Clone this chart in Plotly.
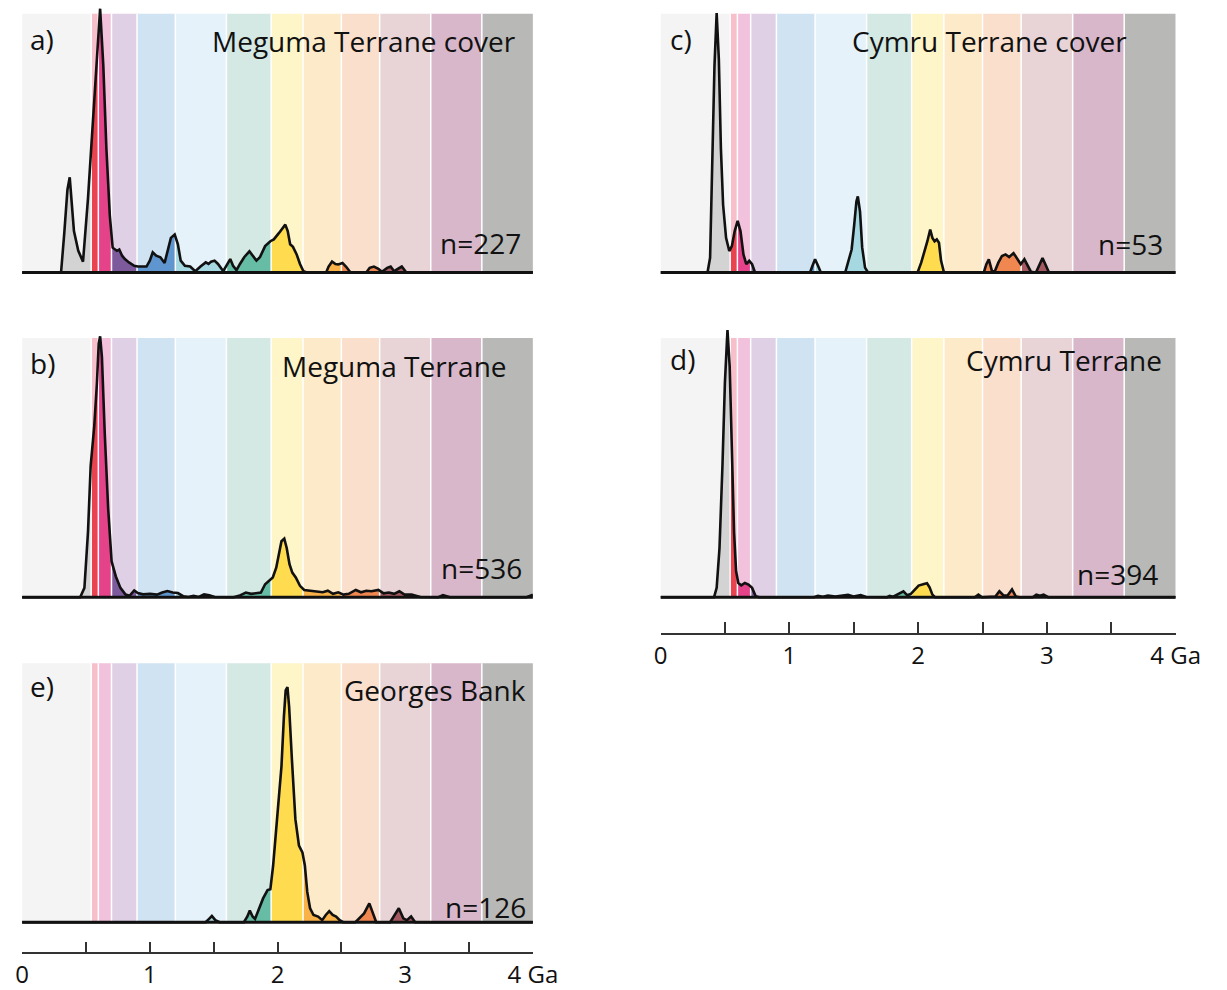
import numpy as np
import plotly.graph_objects as go

W, H = 1227, 990

# ---------------- data ----------------
BAND_EDGES = [0, 0.541, 0.597, 0.7, 0.9, 1.2, 1.6, 1.95, 2.2, 2.5, 2.8, 3.2, 3.6, 4.0]
BAND_LIGHT = ["#f4f4f4", "#f6bfca", "#f2c1dc", "#dfd0e6", "#d0e3f3", "#e5f2f9", "#d4e9e4",
              "#fef5c8", "#fdeac9", "#fadfcc", "#e8d3d6", "#d8b7cb", "#b8b8b7"]
BAND_DARK = ["#d4d3d4", "#e8434f", "#e4438a", "#7c5a9c", "#5f96cf", "#a5d8e1", "#67bca5",
             "#ffdb4f", "#f8b247", "#f08650", "#a55a62", "#a0678f", "#8a8a8a"]

CURVE_A = [(0, 0), (0.305, 0), (0.33, 0.15), (0.355, 0.32), (0.373, 0.368), (0.39, 0.25), (0.406, 0.16),
           (0.44, 0.084), (0.477, 0.042), (0.516, 0.287), (0.551, 0.568), (0.586, 0.862), (0.611, 1.02),
           (0.636, 0.80), (0.66, 0.48), (0.687, 0.22), (0.709, 0.096), (0.742, 0.084), (0.761, 0.089),
           (0.783, 0.065), (0.805, 0.052), (0.837, 0.039), (0.878, 0.026), (0.906, 0.023), (0.974, 0.023),
           (1.0, 0.046), (1.023, 0.078), (1.05, 0.065), (1.083, 0.059), (1.116, 0.037), (1.144, 0.096),
           (1.165, 0.134), (1.195, 0.147), (1.22, 0.109), (1.242, 0.046), (1.275, 0.026), (1.316, 0.023),
           (1.356, 0.005), (1.397, 0.023), (1.438, 0.039), (1.46, 0.033), (1.48, 0.042), (1.507, 0.046),
           (1.534, 0.033), (1.575, 0.005), (1.602, 0.026), (1.63, 0.052), (1.652, 0.026), (1.679, 0.009),
           (1.706, 0.033), (1.739, 0.059), (1.78, 0.082), (1.807, 0.065), (1.835, 0.046), (1.862, 0.059),
           (1.903, 0.102), (1.944, 0.121), (1.971, 0.128), (2.012, 0.153), (2.04, 0.172), (2.061, 0.185),
           (2.08, 0.16), (2.099, 0.109), (2.121, 0.099), (2.149, 0.071), (2.176, 0.033), (2.203, 0.005),
           (2.23, 0), (2.381, 0), (2.4, 0.023), (2.427, 0.042), (2.454, 0.033), (2.476, 0.031),
           (2.509, 0.037), (2.536, 0.023), (2.572, 0), (2.695, 0), (2.722, 0.018), (2.755, 0.023),
           (2.79, 0.014), (2.818, 0.003), (2.859, 0.018), (2.886, 0.023), (2.913, 0.005), (2.94, 0.014),
           (2.973, 0.023), (3.009, 0), (4.0, 0)]

CURVE_B = [(0, 0), (0.455, 0), (0.488, 0.036), (0.516, 0.252), (0.537, 0.507), (0.565, 0.66), (0.586, 0.826),
           (0.6, 0.978), (0.611, 1.006), (0.625, 0.927), (0.647, 0.634), (0.674, 0.342), (0.701, 0.138),
           (0.734, 0.08), (0.77, 0.036), (0.81, 0.01), (0.843, 0.006), (0.878, 0.026), (0.906, 0.016),
           (0.947, 0.011), (1.002, 0.013), (1.056, 0.01), (1.097, 0.018), (1.138, 0.024), (1.179, 0.018),
           (1.22, 0.016), (1.261, 0.004), (1.302, 0.001), (1.343, 0.005), (1.384, 0.001), (1.425, 0.011),
           (1.466, 0.008), (1.507, 0.001), (1.548, 0), (1.657, 0), (1.711, 0.008), (1.752, 0.018),
           (1.793, 0.013), (1.835, 0.016), (1.87, 0.018), (1.903, 0.05), (1.935, 0.063), (1.963, 0.076),
           (1.99, 0.114), (2.012, 0.165), (2.031, 0.216), (2.053, 0.226), (2.072, 0.19), (2.094, 0.127),
           (2.116, 0.095), (2.143, 0.076), (2.176, 0.044), (2.209, 0.028), (2.258, 0.025), (2.312, 0.023),
           (2.354, 0.019), (2.394, 0.025), (2.435, 0.013), (2.476, 0.019), (2.517, 0.01), (2.558, 0.013),
           (2.613, 0.028), (2.654, 0.019), (2.695, 0.025), (2.736, 0.023), (2.79, 0.028), (2.831, 0.015),
           (2.872, 0.018), (2.913, 0.013), (2.954, 0.023), (2.995, 0.01), (3.05, 0.01), (3.118, 0.001),
           (3.16, 0), (3.26, 0), (3.296, 0.008), (3.35, 0), (3.95, 0), (4.0, 0.01)]

CURVE_C = [(0, 0), (0.365, 0), (0.385, 0.057), (0.402, 0.415), (0.419, 0.798), (0.436, 1.003), (0.453, 0.824),
           (0.469, 0.479), (0.486, 0.262), (0.509, 0.134), (0.534, 0.083), (0.554, 0.102), (0.576, 0.16),
           (0.599, 0.2), (0.621, 0.16), (0.644, 0.07), (0.666, 0.032), (0.689, 0.045), (0.711, 0.032),
           (0.734, 0), (1.161, 0), (1.18, 0.026), (1.2, 0.051), (1.223, 0.026), (1.245, 0), (1.434, 0),
           (1.462, 0.046), (1.484, 0.089), (1.504, 0.185), (1.521, 0.275), (1.532, 0.294), (1.549, 0.236),
           (1.566, 0.096), (1.588, 0.019), (1.611, 0), (1.996, 0), (2.024, 0.038), (2.052, 0.083),
           (2.072, 0.121), (2.094, 0.166), (2.111, 0.134), (2.128, 0.121), (2.145, 0.128), (2.162, 0.115),
           (2.178, 0.046), (2.201, 0), (2.51, 0), (2.53, 0.032), (2.549, 0.051), (2.572, 0.008),
           (2.594, 0.003), (2.623, 0.038), (2.651, 0.064), (2.679, 0.07), (2.707, 0.06), (2.741, 0.075),
           (2.774, 0.051), (2.797, 0.032), (2.825, 0.051), (2.847, 0.032), (2.876, 0.003), (2.915, 0),
           (2.937, 0.026), (2.966, 0.056), (2.988, 0.032), (3.016, 0), (4.0, 0)]

CURVE_D = [(0, 0), (0.416, 0), (0.436, 0.036), (0.458, 0.189), (0.481, 0.507), (0.5, 0.826), (0.52, 1.03),
           (0.537, 0.89), (0.554, 0.571), (0.571, 0.252), (0.587, 0.1), (0.604, 0.055), (0.627, 0.046),
           (0.655, 0.055), (0.683, 0.049), (0.711, 0.036), (0.739, 0.004), (0.767, 0), (1.19, 0),
           (1.223, 0.005), (1.26, 0.002), (1.3, 0.006), (1.358, 0.003), (1.41, 0.006), (1.456, 0.009),
           (1.498, 0.003), (1.554, 0.008), (1.597, 0.001), (1.65, 0), (1.76, 0), (1.779, 0.005),
           (1.807, 0.002), (1.886, 0.023), (1.914, 0.008), (1.942, 0.012), (1.976, 0.032), (2.004, 0.045),
           (2.046, 0.051), (2.069, 0.054), (2.089, 0.038), (2.111, 0.01), (2.131, 0), (2.44, 0),
           (2.468, 0.01), (2.496, 0), (2.6, 0.003), (2.631, 0.023), (2.665, 0.006), (2.693, 0.006),
           (2.729, 0.03), (2.758, 0.003), (2.786, 0), (2.89, 0), (2.918, 0.01), (2.946, 0.006),
           (2.974, 0.01), (3.01, 0), (4.0, 0)]

CURVE_E = [(0, 0), (1.437, 0), (1.464, 0.013), (1.486, 0.024), (1.513, 0.008), (1.546, 0), (1.737, 0),
           (1.764, 0.022), (1.783, 0.045), (1.805, 0.022), (1.824, 0.013), (1.851, 0.047), (1.887, 0.092),
           (1.922, 0.124), (1.944, 0.127), (1.966, 0.22), (1.988, 0.347), (2.01, 0.449), (2.031, 0.602),
           (2.05, 0.793), (2.064, 0.895), (2.078, 0.908), (2.091, 0.832), (2.113, 0.627), (2.14, 0.398),
           (2.168, 0.296), (2.195, 0.27), (2.214, 0.22), (2.233, 0.117), (2.255, 0.054), (2.282, 0.028),
           (2.318, 0.022), (2.35, 0.008), (2.378, 0.028), (2.405, 0.043), (2.432, 0.028), (2.459, 0.022),
           (2.487, 0.008), (2.514, 0), (2.61, 0), (2.637, 0.015), (2.678, 0.034), (2.719, 0.073),
           (2.746, 0.034), (2.773, 0), (2.882, 0), (2.915, 0.028), (2.95, 0.054), (2.985, 0.015),
           (3.013, 0.008), (3.046, 0.022), (3.078, 0), (4.0, 0)]

LETTERS = ["a)", "b)", "c)", "d)", "e)"]
TITLES = ["Meguma Terrane cover", "Meguma Terrane", "Cymru Terrane cover", "Cymru Terrane", "Georges Bank"]
COUNTS = ["n=227", "n=536", "n=53", "n=394", "n=126"]
CURVES = [CURVE_A, CURVE_B, CURVE_C, CURVE_D, CURVE_E]

SCALE_TICKS = [0, 0.5, 1, 1.5, 2, 2.5, 3, 3.5, 4]
SCALE_LABELS = ["0", "", "1", "", "2", "", "3", "", "4 Ga"]

# ---------------- layout geometry (pixels) ----------------
GEOM = [
    dict(x0=15.5, x1=540, top=14, base=275, lx=22, ly=39, tx=525, ty=41, nx=530, ny=245),
    dict(x0=15.5, x1=540, top=341, base=602.7, lx=22, ly=366, tx=515, ty=369, nx=531, ny=573),
    dict(x0=671, x1=1200, top=14, base=275, lx=679, ly=39, tx=1152, ty=41, nx=1189, ny=246),
    dict(x0=671, x1=1200, top=341, base=602.7, lx=679, ly=362, tx=1188, ty=363, nx=1184, ny=579),
    dict(x0=15.5, x1=540, top=669.3, base=930.7, lx=22, ly=692, tx=535, ty=696, nx=535, ny=915),
]
SCALES = [dict(x0=671, x1=1200, line=639), dict(x0=15.5, x1=540, line=961)]

FONT = "Open Sans, Noto Sans, sans-serif"

fig = go.Figure()
layout = dict(width=W, height=H, margin=dict(l=0, r=0, t=0, b=0),
              paper_bgcolor="white", plot_bgcolor="rgba(0,0,0,0)", showlegend=False)
shapes, annotations = [], []

for i, (curve, g) in enumerate(zip(CURVES, GEOM), start=1):
    xs = np.array([p[0] for p in curve], dtype=float)
    ys = np.array([p[1] for p in curve], dtype=float)
    h = g["base"] - g["top"]
    xa, ya = f"x{i}", f"y{i}"
    layout[f"xaxis{i}"] = dict(domain=[g["x0"] / W, g["x1"] / W], range=[0, 4], visible=False,
                               anchor=ya, fixedrange=True)
    layout[f"yaxis{i}"] = dict(domain=[1 - (g["base"] + 3) / H, 1 - (g["top"] - 10) / H],
                               range=[-3 / h, (h + 10) / h], visible=False, anchor=xa, fixedrange=True)
    # background bands
    for k in range(len(BAND_LIGHT)):
        shapes.append(dict(type="rect", xref=xa, yref=ya, x0=BAND_EDGES[k], x1=BAND_EDGES[k + 1],
                           y0=0, y1=1, fillcolor=BAND_LIGHT[k], line=dict(width=0), layer="below"))
    # filled area under the curve, coloured by band
    for k in range(len(BAND_DARK)):
        lo, hi = BAND_EDGES[k], BAND_EDGES[k + 1]
        inside = (xs > lo) & (xs < hi)
        bx = np.concatenate([[lo], xs[inside], [hi]])
        by = np.interp(bx, xs, ys)
        if by.max() <= 0:
            continue
        fig.add_trace(go.Scatter(x=np.concatenate([bx, [hi, lo]]), y=np.concatenate([by, [0, 0]]),
                                 fill="toself", fillcolor=BAND_DARK[k], mode="none",
                                 xaxis=xa, yaxis=ya, hoverinfo="skip"))
    # white band separators
    sx, sy = [], []
    for e in BAND_EDGES[1:-1]:
        sx += [e, e, None]
        sy += [0, 1, None]
    fig.add_trace(go.Scatter(x=sx, y=sy, mode="lines", line=dict(color="white", width=1.5),
                             xaxis=xa, yaxis=ya, hoverinfo="skip"))
    # curve outline
    fig.add_trace(go.Scatter(x=xs, y=ys, mode="lines", line=dict(color="#111111", width=2.6),
                             xaxis=xa, yaxis=ya, hoverinfo="skip"))
    # baseline
    shapes.append(dict(type="line", xref=xa, yref=ya, x0=0, x1=4, y0=0, y1=0,
                       line=dict(color="#111111", width=3), layer="above"))
    # texts
    annotations.append(dict(text=LETTERS[i - 1], x=g["lx"] / W, y=1 - g["ly"] / H, xref="paper", yref="paper",
                            xanchor="left", yanchor="middle", showarrow=False,
                            font=dict(family=FONT, size=28, color="#111")))
    annotations.append(dict(text=TITLES[i - 1], x=g["tx"] / W, y=1 - g["ty"] / H, xref="paper", yref="paper",
                            xanchor="right", yanchor="middle", showarrow=False,
                            font=dict(family=FONT, size=28, color="#111")))
    annotations.append(dict(text=COUNTS[i - 1], x=g["nx"] / W, y=1 - g["ny"] / H, xref="paper", yref="paper",
                            xanchor="right", yanchor="middle", showarrow=False,
                            font=dict(family=FONT, size=28, color="#111")))

# age scale bars
for j, s in enumerate(SCALES, start=6):
    xa, ya = f"x{j}", f"y{j}"
    layout[f"xaxis{j}"] = dict(domain=[s["x0"] / W, s["x1"] / W], range=[0, 4], anchor=ya,
                               showline=True, linecolor="#333", linewidth=1.5, ticks="inside",
                               ticklen=11, tickwidth=1.5, tickcolor="#333", tickvals=SCALE_TICKS,
                               ticktext=SCALE_LABELS, tickfont=dict(family=FONT, size=24, color="#111"),
                               showgrid=False, zeroline=False, fixedrange=True)
    layout[f"yaxis{j}"] = dict(domain=[1 - s["line"] / H, 1 - (s["line"] - 14) / H], range=[0, 1],
                               visible=False, anchor=xa, fixedrange=True)
    fig.add_trace(go.Scatter(x=[0, 4], y=[-1, -1], mode="lines", line=dict(width=0),
                             xaxis=xa, yaxis=ya, hoverinfo="skip"))

layout["shapes"] = shapes
layout["annotations"] = annotations
fig.update_layout(**layout)
fig.write_html("out.html")
